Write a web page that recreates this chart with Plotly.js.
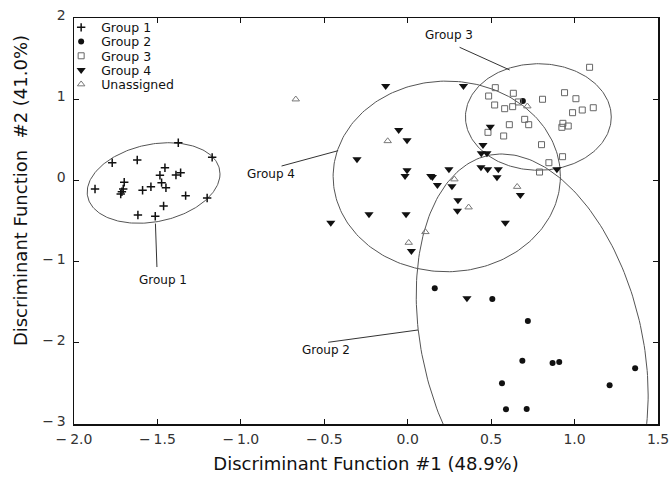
<!DOCTYPE html>
<html>
<head>
<meta charset="utf-8">
<script src="https://cdn.plot.ly/plotly-3.0.1.min.js"></script>
<style>html,body{margin:0;padding:0;background:#fff;}#chart{width:672px;height:477px;}</style>
</head>
<body>
<div id="chart"></div>
<script>
// ---- data ----
const groupNames = ['Group 1', 'Group 2', 'Group 3', 'Group 4', 'Unassigned'];

const g1x = [-1.375,-1.172,-1.771,-1.621,-1.455,-1.485,-1.389,-1.361,-1.699,-1.475,-1.449,-1.539,-1.589,-1.874,-1.705,-1.713,-1.720,-1.331,-1.202,-1.463,-1.617,-1.513];
const g1y = [0.464,0.284,0.218,0.251,0.156,0.063,0.067,0.095,-0.023,-0.028,-0.090,-0.078,-0.122,-0.106,-0.106,-0.139,-0.167,-0.188,-0.217,-0.315,-0.426,-0.442];

const g2x = [0.690,0.162,0.507,0.720,0.687,0.868,0.908,1.363,0.565,1.210,0.589,0.713];
const g2y = [0.978,-1.329,-1.461,-1.732,-2.220,-2.249,-2.236,-2.314,-2.499,-2.523,-2.819,-2.815];

const g3x = [1.090,0.525,0.633,0.485,0.940,0.808,1.008,0.663,0.521,0.581,0.629,0.988,1.046,1.112,0.701,0.725,0.609,0.930,0.924,0.962,0.481,0.575,0.802,0.928,0.846,0.790];
const g3y = [1.393,1.142,1.073,1.039,1.080,0.999,1.006,0.966,0.929,0.883,0.908,0.834,0.867,0.895,0.752,0.686,0.686,0.703,0.654,0.670,0.592,0.547,0.440,0.292,0.218,0.103];

const g4x = [-0.132,0.334,-0.054,-0.004,-0.304,-0.004,-0.016,0.138,0.148,0.247,0.178,0.265,0.301,0.298,0.495,0.451,0.441,0.475,0.439,0.479,0.543,0.535,0.675,0.585,-0.232,-0.010,-0.461,0.022,0.894,0.355];
const g4y = [1.163,1.163,0.621,0.494,0.260,0.124,0.054,0.054,0.042,0.137,-0.057,-0.073,-0.245,-0.373,0.661,0.436,0.334,0.334,0.161,0.137,0.137,0.038,-0.180,-0.521,-0.417,-0.417,-0.521,-0.869,0.137,-1.452];

const gux = [-0.671,-0.120,0.717,0.280,0.365,0.656,0.106,0.006];
const guy = [0.999,0.485,0.913,0.014,-0.331,-0.078,-0.635,-0.767];

// group ellipses: centre, half-extent in x and y, correlation
const ellCx  = [-1.523, 0.746, 0.783, 0.234];
const ellCy  = [-0.032, -2.027, 0.781, 0.049];
const ellRx  = [0.398, 0.695, 0.437, 0.681];
const ellRy  = [0.496, 2.352, 0.656, 1.174];
const ellRho = [0.226, -0.262, 0.0, 0.0];

const xTickVals = [-2.0,-1.5,-1.0,-0.5,0.0,0.5,1.0,1.5];
const xTickText = ['\u2212\u20092.0','\u2212\u20091.5','\u2212\u20091.0','\u2212\u20090.5','0.0','0.5','1.0','1.5'];
const yTickVals = [-3,-2,-1,0,1,2];
const yTickText = ['\u2212\u20093','\u2212\u20092','\u2212\u20091','0','1','2'];

const xTitle = 'Discriminant Function #1 (48.9%)';
const yTitle = 'Discriminant Function  #2 (41.0%)';

// ---- build ----
const FONT = 'DejaVu Sans, Verdana, sans-serif';
const traces = [];

for (let k = 0; k < ellCx.length; k++) {
  const xs = [], ys = [];
  const n = 240, s = Math.sqrt(1 - ellRho[k] * ellRho[k]);
  for (let i = 0; i <= n; i++) {
    const t = 2 * Math.PI * i / n;
    xs.push(ellCx[k] + ellRx[k] * Math.cos(t));
    ys.push(ellCy[k] + ellRy[k] * (ellRho[k] * Math.cos(t) + s * Math.sin(t)));
  }
  traces.push({x: xs, y: ys, mode: 'lines', type: 'scatter', showlegend: false, hoverinfo: 'skip',
    line: {color: '#555', width: 1}});
}

const markerDefs = [
  {symbol: 'cross-thin', size: 6, color: '#111', line: {color: '#111', width: 1.5}},
  {symbol: 'circle', size: 6, color: '#111', line: {width: 0}},
  {symbol: 'square-open', size: 6, color: '#666', line: {color: '#666', width: 1}},
  {symbol: 'triangle-down', size: 8, color: '#111', line: {width: 0}},
  {symbol: 'triangle-up-open', size: 6.5, color: '#777', line: {color: '#777', width: 1}}
];
const xsAll = [g1x, g2x, g3x, g4x, gux];
const ysAll = [g1y, g2y, g3y, g4y, guy];
const legendIds = ['legend', 'legend2', 'legend3', 'legend4', 'legend5'];
for (let k = 0; k < 5; k++) {
  traces.push({x: xsAll[k], y: ysAll[k], mode: 'markers', type: 'scatter', name: groupNames[k],
    legend: legendIds[k], marker: markerDefs[k]});
}

const legendY = [0.976, 0.941, 0.906, 0.871, 0.836];
function mkLegend(y) {
  return {x: -0.022, xanchor: 'left', y: y, yanchor: 'middle', bgcolor: 'rgba(0,0,0,0)', borderwidth: 0,
    font: {family: FONT, size: 12.5, color: '#111'}, itemwidth: 30};
}

const labelText = ['Group 1', 'Group 4', 'Group 2', 'Group 3'];
const labelX = [-1.467, -0.820, -0.491, 0.249];
const labelY = [-1.227, 0.079, -2.089, 1.791];
const leadX0 = [-1.512, -0.417, 0.062, 0.611];
const leadY0 = [-0.531, 0.366, -1.842, 1.360];
const leadX1 = [-1.503, -0.756, -0.477, 0.311];
const leadY1 = [-1.067, 0.177, -1.994, 1.639];

const annotations = labelText.map((t, i) => ({x: labelX[i], y: labelY[i], xref: 'x', yref: 'y', text: t,
  showarrow: false, font: {family: FONT, size: 12, color: '#111'}}));
annotations.push({x: -0.0925, y: 0.576, xref: 'paper', yref: 'paper', text: yTitle, textangle: -90,
  showarrow: false, xanchor: 'center', yanchor: 'middle', font: {family: FONT, size: 18, color: '#111'}});
const shapes = labelText.map((t, i) => ({type: 'line', xref: 'x', yref: 'y', x0: leadX0[i], y0: leadY0[i],
  x1: leadX1[i], y1: leadY1[i], line: {color: '#333', width: 1}}));

const layout = {
  width: 672, height: 477,
  margin: {l: 74, r: 14, t: 18, b: 53, pad: 0},
  paper_bgcolor: '#fff', plot_bgcolor: '#fff',
  font: {family: FONT, color: '#111'},
  xaxis: {range: [-2, 1.5], tickvals: xTickVals, ticktext: xTickText, ticks: 'inside', ticklen: 5,
    tickcolor: '#111', showline: true, linecolor: '#111', linewidth: 1.5, mirror: 'ticks',
    showgrid: false, zeroline: false, tickfont: {family: FONT, size: 14, color: '#333'},
    ticklabelstandoff: 2,
    title: {text: xTitle, font: {family: FONT, size: 18, color: '#111'}, standoff: 11}},
  yaxis: {range: [-3, 2], tickvals: yTickVals, ticktext: yTickText, ticks: 'inside', ticklen: 5,
    tickcolor: '#111', showline: true, linecolor: '#111', linewidth: 1.5, mirror: 'ticks',
    showgrid: false, zeroline: false, tickfont: {family: FONT, size: 14, color: '#333'},
    ticklabelshift: -3, ticklabelstandoff: 4},
  legend: mkLegend(legendY[0]),
  legend2: mkLegend(legendY[1]),
  legend3: mkLegend(legendY[2]),
  legend4: mkLegend(legendY[3]),
  legend5: mkLegend(legendY[4]),
  annotations: annotations,
  shapes: shapes
};

Plotly.newPlot('chart', traces, layout, {displayModeBar: false, staticPlot: true});
</script>
</body>
</html>
